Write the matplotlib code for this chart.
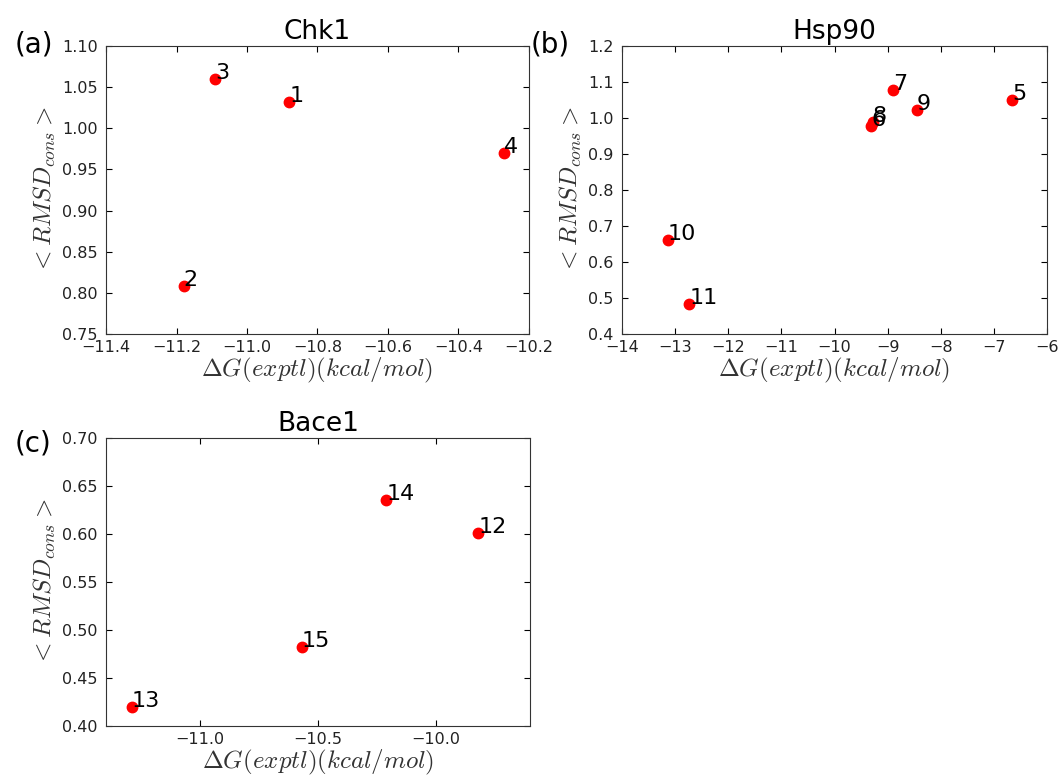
import matplotlib
matplotlib.use("Agg")
import matplotlib.pyplot as plt
import numpy as np

plt.rcParams["mathtext.fontset"] = "cm"
plt.rcParams["font.family"] = "DejaVu Sans"

# Chk1
chk1_dg = [-10.88, -11.18, -11.09, -10.27]
chk1_rmsd = [1.032, 0.808, 1.060, 0.970]
chk1_ids = ["1", "2", "3", "4"]

# Hsp90
hsp90_dg = [-6.66, -9.31, -8.89, -9.28, -8.45, -13.14, -12.73]
hsp90_rmsd = [1.049, 0.977, 1.078, 0.990, 1.023, 0.662, 0.483]
hsp90_ids = ["5", "6", "7", "8", "9", "10", "11"]

# Bace1
bace1_dg = [-9.82, -11.29, -10.21, -10.57]
bace1_rmsd = [0.601, 0.420, 0.635, 0.482]
bace1_ids = ["12", "13", "14", "15"]

W, H = 1059, 777
fig = plt.figure(figsize=(W / 100, H / 100), dpi=100)


def px_axes(x0, x1, y0, y1):
    return fig.add_axes([x0 / W, (H - y1) / H, (x1 - x0) / W, (y1 - y0) / H])


def fmt(v, f):
    return (f % v).replace("-", "\u2212")


def panel(ax, xs, ys, ids, title, tag, tag_y, xlim, xticks, xfmt,
          ylim, yticks, yfmt):
    ax.plot(xs, ys, "o", color="red", mec="red", ms=7.5, ls="none")
    for x, y, t in zip(xs, ys, ids):
        ax.annotate(t, (x, y), fontsize=16)
    ax.set_xlim(*xlim)
    ax.set_ylim(*ylim)
    ax.set_xticks(xticks)
    ax.set_yticks(yticks)
    ax.set_xticklabels([fmt(v, xfmt) for v in xticks])
    ax.set_yticklabels([fmt(v, yfmt) for v in yticks])
    ax.tick_params(direction="in", top=True, right=True, length=4,
                   labelsize=11.5, labelcolor="#222222")
    ax.tick_params(axis="y", pad=6)
    ax.tick_params(axis="x", pad=4)
    for s in ax.spines.values():
        s.set_color("#333333")
    ax.set_title(title, fontsize=19, pad=5)
    ax.set_xlabel(r"$\Delta G(exptl)(kcal/mol)$", fontsize=18,
                  color="#333333", labelpad=1)
    ax.set_ylabel(r"$<RMSD_{cons}>$", fontsize=18, color="#333333",
                  labelpad=3)
    ax.text(-0.215, tag_y, tag, transform=ax.transAxes, fontsize=20,
            ha="left", va="center")


ax_a = px_axes(106, 529, 46, 334)
panel(ax_a, chk1_dg, chk1_rmsd, chk1_ids, "Chk1", "(a)", 1.006,
      (-11.4, -10.2), np.arange(-11.4, -10.15, 0.2), "%.1f",
      (0.75, 1.10), np.arange(0.75, 1.101, 0.05), "%.2f")

ax_b = px_axes(622, 1047, 46, 334)
panel(ax_b, hsp90_dg, hsp90_rmsd, hsp90_ids, "Hsp90", "(b)", 1.004,
      (-14, -6), np.arange(-14, -5.5, 1), "%d",
      (0.4, 1.2), np.arange(0.4, 1.201, 0.1), "%.1f")

ax_c = px_axes(106, 530, 438, 726)
panel(ax_c, bace1_dg, bace1_rmsd, bace1_ids, "Bace1", "(c)", 0.98,
      (-11.4, -9.6), [-11.0, -10.5, -10.0], "%.1f",
      (0.40, 0.70), np.arange(0.40, 0.701, 0.05), "%.2f")

fig.savefig("out.png", dpi=100)
